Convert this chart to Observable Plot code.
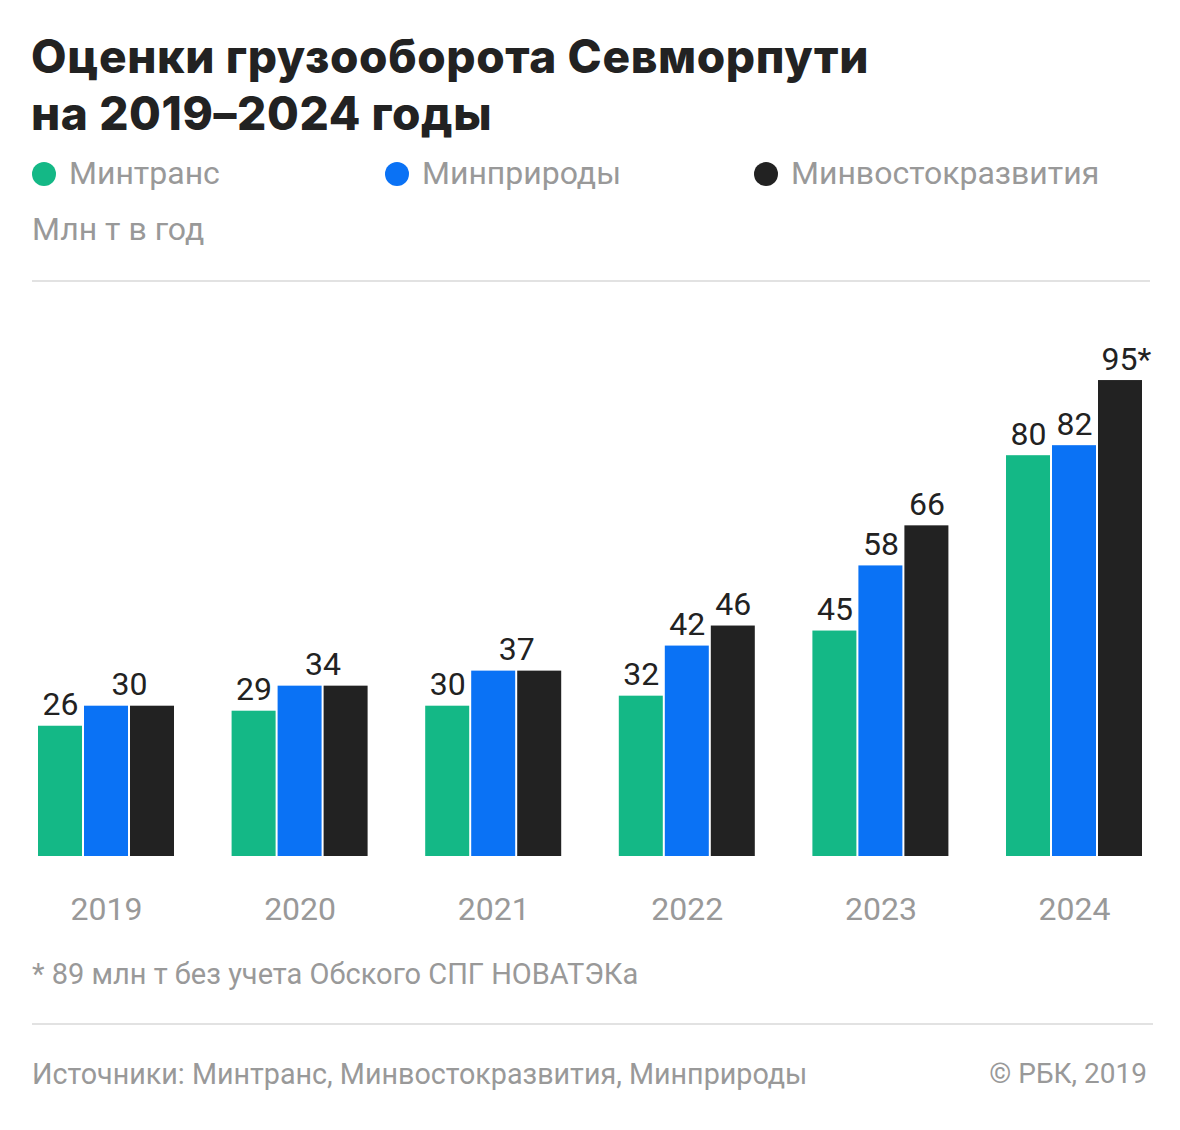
<!DOCTYPE html>
<html>
<head>
<meta charset="utf-8">
<script src="https://cdn.jsdelivr.net/npm/d3@7"></script>
<script src="https://cdn.jsdelivr.net/npm/@observablehq/plot@0.6"></script>
<style>
  html, body { margin: 0; padding: 0; background: #fff; }
  #page { position: relative; width: 1180px; height: 1130px; overflow: hidden; font-family: Roboto, "Noto Sans", sans-serif; }
  .abs { position: absolute; white-space: nowrap; }
  .title { left: 31px; font-family: Inter, Roboto, sans-serif; font-weight: 800; font-size: 46px; line-height: 56px; color: #222; letter-spacing: 0.6px; }
  .leg { top: 154px; font-size: 32px; line-height: 38px; color: #999; font-weight: 400; }
  .dot { display: inline-block; width: 24px; height: 24px; border-radius: 50%; vertical-align: -2px; margin-right: 13px; }
  #unit { left: 32px; top: 210px; font-size: 32px; line-height: 38px; color: #999; }
  .hr { position: absolute; height: 2px; background: #e2e2e2; }
  #chart { position: absolute; left: 0; top: 290px; }
  #note { left: 32px; top: 957px; font-size: 29px; line-height: 34px; color: #999; }
  #src { left: 32px; top: 1057px; font-size: 28.7px; line-height: 34px; color: #999; }
  #copy { right: 33px; top: 1057px; font-size: 28px; line-height: 34px; color: #999; }
</style>
</head>
<body>
<div id="page">
  <div class="abs title" style="top:28px;">Оценки грузооборота Севморпути</div>
  <div class="abs title" style="top:85px;">на 2019–2024 годы</div>
  <div id="legend"></div>
  <div id="unit" class="abs">Млн т в год</div>
  <div class="hr" style="left:32px; width:1118px; top:280px;"></div>
  <div id="chart"></div>
  <div id="note" class="abs">* 89 млн т без учета Обского СПГ НОВАТЭКа</div>
  <div class="hr" style="left:32px; width:1121px; top:1023px;"></div>
  <div id="src" class="abs">Источники: Минтранс, Минвостокразвития, Минприроды</div>
  <div id="copy" class="abs">© РБК, 2019</div>
</div>
<script>
const years = ["2019", "2020", "2021", "2022", "2023", "2024"];
const seriesNames = ["Минтранс", "Минприроды", "Минвостокразвития"];
const seriesColors = ["#14b886", "#0a72f5", "#222222"];
const mintrans = [26, 29, 30, 32, 45, 80];
const minprirody = [30, 34, 37, 42, 58, 82];
const minvostok = [30, 34, 37, 46, 66, 95];
const vostokNotes = ["", "", "", "", "", "*"];
const legendLeft = [32, 385, 754];

// legend
const legend = document.getElementById("legend");
seriesNames.forEach((s, i) => {
  const d = document.createElement("div");
  d.className = "abs leg";
  d.style.left = legendLeft[i] + "px";
  d.innerHTML = `<span class="dot" style="background:${seriesColors[i]}"></span>${s}`;
  legend.appendChild(d);
});

const seriesValues = [mintrans, minprirody, minvostok];
const data = [];
years.forEach((y, j) => {
  seriesNames.forEach((s, i) => data.push({year: y, series: s, value: seriesValues[i][j]}));
});

// labels: one shared label when Минприроды equals Минвостокразвития
const labels = [];
years.forEach((y, j) => {
  labels.push({year: y, series: seriesNames[0], value: mintrans[j], text: String(mintrans[j]), shift: 0});
  if (minprirody[j] === minvostok[j]) {
    labels.push({year: y, series: seriesNames[1], value: minprirody[j], text: String(minprirody[j]), shift: 23});
  } else {
    labels.push({year: y, series: seriesNames[1], value: minprirody[j], text: String(minprirody[j]), shift: 0});
    labels.push({year: y, series: seriesNames[2], value: minvostok[j], text: String(minvostok[j]) + vostokNotes[j], shift: vostokNotes[j] ? 6 : 0});
  }
});

const chart = Plot.plot({
  width: 1180,
  height: 660,
  marginLeft: 38,
  marginRight: 38,
  marginTop: 65,
  marginBottom: 94,
  style: {fontFamily: "Roboto, 'Noto Sans', sans-serif", fontSize: "32px", background: "transparent"},
  fx: {domain: years, paddingInner: 0.2975, paddingOuter: 0, round: false, axis: "bottom", tickSize: 0, tickPadding: 41, label: null},
  x: {domain: seriesNames, paddingInner: 0.0435, paddingOuter: 0, round: false, axis: null},
  y: {domain: [0, 100], axis: null},
  color: {domain: seriesNames, range: seriesColors},
  marks: [
    Plot.barY(data, {fx: "year", x: "series", y: "value", fill: "series", inset: 0}),
    Plot.text(labels.filter(d => d.shift === 0), {fx: "year", x: "series", y: "value", text: "text", lineAnchor: "bottom", dy: -11, fill: "#222", fontSize: 32}),
    Plot.text(labels.filter(d => d.shift === 23), {fx: "year", x: "series", y: "value", text: "text", lineAnchor: "bottom", dy: -11, dx: 23, fill: "#222", fontSize: 32}),
    Plot.text(labels.filter(d => d.shift === 6), {fx: "year", x: "series", y: "value", text: "text", lineAnchor: "bottom", dy: -11, dx: 6, fill: "#222", fontSize: 32})
  ]
});
const fxAxis = chart.querySelector('[aria-label="fx-axis tick label"]');
if (fxAxis) fxAxis.setAttribute("fill", "#999");
document.getElementById("chart").appendChild(chart);
</script>
</body>
</html>
